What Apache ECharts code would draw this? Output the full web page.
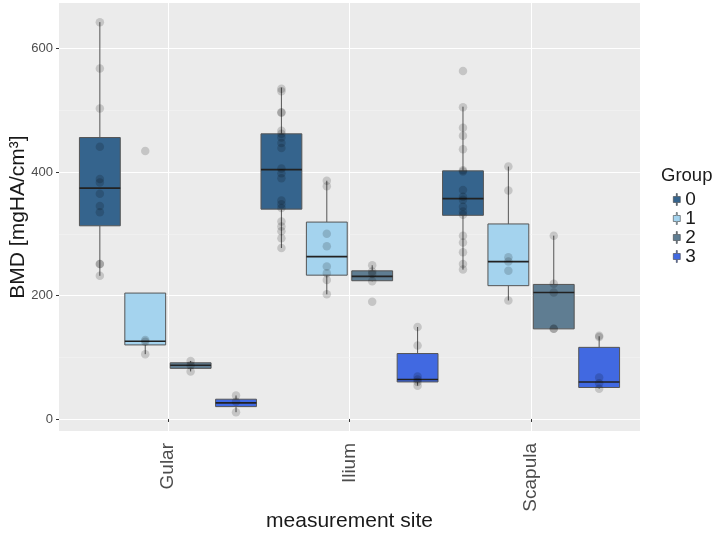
<!DOCTYPE html>
<html>
<head>
<meta charset="utf-8">
<script src="https://cdn.jsdelivr.net/npm/echarts@6/dist/echarts.min.js"></script>
<style>
  html, body { margin: 0; padding: 0; background: #fff; }
  #chart { width: 714px; height: 537px; }
</style>
</head>
<body>
<div id="chart"></div>
<script>
// categories and groups
const sites = ['Gular', 'Ilium', 'Scapula']
const groups = ['0', '1', '2', '3']
const groupColors = ['#35648D', '#A4D3EE', '#5F7D92', '#4169E1']
const yTicks = [0, 200, 400, 600]
const yMinor = [100, 300, 500]

// box stats per site: [lower whisker, q1, median, q3, upper whisker]
const box0 = [[232, 313, 374, 456, 643], [277, 340, 404, 462, 537], [242, 330, 357, 402, 506]]
const box1 = [[105, 120, 126, 204, 204], [202, 233, 263, 319, 386], [192, 216, 255, 316, 409]]
const box2 = [[77, 82, 87, 91, 94], [223, 224, 231, 240, 249], [146, 146, 205, 218, 297]]
const box3 = [[11, 20, 26, 32, 38], [54, 60, 64, 106, 149], [49, 51, 60, 116, 134]]

// individual measurements per site
const pts0 = [
  [643, 568, 503, 441, 389, 383, 365, 345, 335, 251, 251, 232],
  [535, 531, 497, 496, 467, 462, 456, 447, 439, 406, 398, 390, 354, 348, 342, 320, 312, 304, 293, 277],
  [564, 505, 472, 459, 437, 403, 401, 371, 360, 355, 344, 336, 331, 297, 286, 270, 251, 242],
]
const pts1 = [[434, 128, 125, 105], [386, 377, 300, 280, 247, 236, 225, 202], [409, 370, 262, 255, 240, 192]]
const pts2 = [[94, 87, 77], [249, 239, 235, 223, 190], [297, 219, 205, 146, 146]]
const pts3 = [[38, 28, 11], [149, 119, 69, 64, 60, 54], [135, 133, 67, 58, 49]]

const boxes = [box0, box1, box2, box3]
const points = [pts0, pts1, pts2, pts3]
const dodge = [-0.375, -0.125, 0.125, 0.375]
const boxWidth = 0.225

const chart = echarts.init(document.getElementById('chart'))

function renderBox(params, api) {
  const x = api.value(0)
  const half = api.size([boxWidth, 0])[0] / 2
  const [cx, yLow] = api.coord([x, api.value(1)])
  const yQ1 = api.coord([x, api.value(2)])[1]
  const yMed = api.coord([x, api.value(3)])[1]
  const yQ3 = api.coord([x, api.value(4)])[1]
  const yHigh = api.coord([x, api.value(5)])[1]
  const lineStyle = { stroke: '#555', lineWidth: 1 }
  return {
    type: 'group',
    children: [
      { type: 'line', shape: { x1: cx, y1: yLow, x2: cx, y2: yQ1 }, style: lineStyle },
      { type: 'line', shape: { x1: cx, y1: yQ3, x2: cx, y2: yHigh }, style: lineStyle },
      {
        type: 'rect',
        shape: { x: cx - half, y: yQ3, width: half * 2, height: yQ1 - yQ3 },
        style: { fill: api.visual('color'), stroke: '#555', lineWidth: 1 },
      },
      { type: 'line', shape: { x1: cx - half, y1: yMed, x2: cx + half, y2: yMed }, style: { stroke: '#222', lineWidth: 1.6 } },
    ],
  }
}

const series = []
groups.forEach((g, gi) => {
  series.push({
    name: g,
    type: 'custom',
    renderItem: renderBox,
    itemStyle: { color: groupColors[gi] },
    encode: { x: 0, y: [1, 2, 3, 4, 5] },
    data: boxes[gi].map((b, si) => [si + 1 + dodge[gi], ...b]),
    z: 2,
  })
})
groups.forEach((g, gi) => {
  const data = []
  points[gi].forEach((vals, si) => vals.forEach(v => data.push([si + 1 + dodge[gi], v])))
  series.push({
    name: 'pts' + g,
    type: 'scatter',
    symbolSize: 8.5,
    itemStyle: { color: 'rgba(0,0,0,0.2)' },
    data: data,
    silent: true,
    z: 3,
  })
})
// minor horizontal grid lines, kept beneath the boxes
series.push({
  name: 'minor',
  type: 'line',
  data: [],
  silent: true,
  z: 1,
  markLine: {
    silent: true,
    z: 1,
    symbol: 'none',
    label: { show: false },
    lineStyle: { color: '#F4F4F4', width: 0.6, type: 'solid' },
    data: yMinor.map(v => ({ yAxis: v })),
  },
})

const option = {
  animation: false,
  backgroundColor: '#fff',
  title: {
    text: 'Group',
    left: 661,
    top: 166,
    textStyle: { fontSize: 18.5, fontWeight: 'normal', color: '#1a1a1a', fontFamily: 'Liberation Sans' },
    padding: 0,
  },
  legend: {
    data: groups,
    orient: 'vertical',
    left: 668,
    top: 185,
    itemWidth: 7,
    itemHeight: 12,
    itemGap: 0,
    icon: 'path://M3,0h1v3h3v6h-3v3h-1v-3h-3v-6h3z',
    itemStyle: { borderColor: '#444', borderWidth: 0.6 },
    textStyle: { fontSize: 19, lineHeight: 17, height: 17, color: '#1a1a1a', fontFamily: 'Liberation Sans' },
    selectedMode: false,
  },
  grid: {
    left: 53,
    right: 74,
    top: 3,
    bottom: 106,
    show: true,
    backgroundColor: '#EBEBEB',
    borderWidth: 0,
  },
  xAxis: {
    type: 'value',
    min: 0.4,
    max: 3.6,
    name: 'measurement site',
    nameLocation: 'middle',
    nameGap: 80,
    nameMoveOverlap: false,
    nameTextStyle: { fontSize: 21, color: '#1a1a1a', fontFamily: 'Liberation Sans' },
    axisLine: { show: false },
    axisTick: { show: true, customValues: [1, 2, 3], length: 3, lineStyle: { color: '#333' } },
    axisLabel: {
      customValues: [1, 2, 3],
      formatter: v => sites[Math.round(v) - 1],
      rotate: 90,
      margin: 12,
      fontSize: 19,
      color: '#4D4D4D',
      fontFamily: 'Liberation Sans',
    },
    splitLine: { show: true, lineStyle: { color: '#fff', width: 1 } },
  },
  yAxis: {
    type: 'value',
    min: -19.5,
    max: 674,
    name: 'BMD [mgHA/cm³]',
    nameLocation: 'middle',
    nameGap: 30,
    nameMoveOverlap: false,
    nameTextStyle: { fontSize: 21, color: '#1a1a1a', fontFamily: 'Liberation Sans' },
    axisLine: { show: false },
    axisTick: { show: true, customValues: yTicks, length: 3, lineStyle: { color: '#333' } },
    axisLabel: { customValues: yTicks, margin: 6, fontSize: 13, color: '#4D4D4D', fontFamily: 'Liberation Sans' },
    splitLine: { show: true, lineStyle: { color: '#fff', width: 1.2 } },
  },
  series: series,
}

chart.setOption(option)
</script>
</body>
</html>
